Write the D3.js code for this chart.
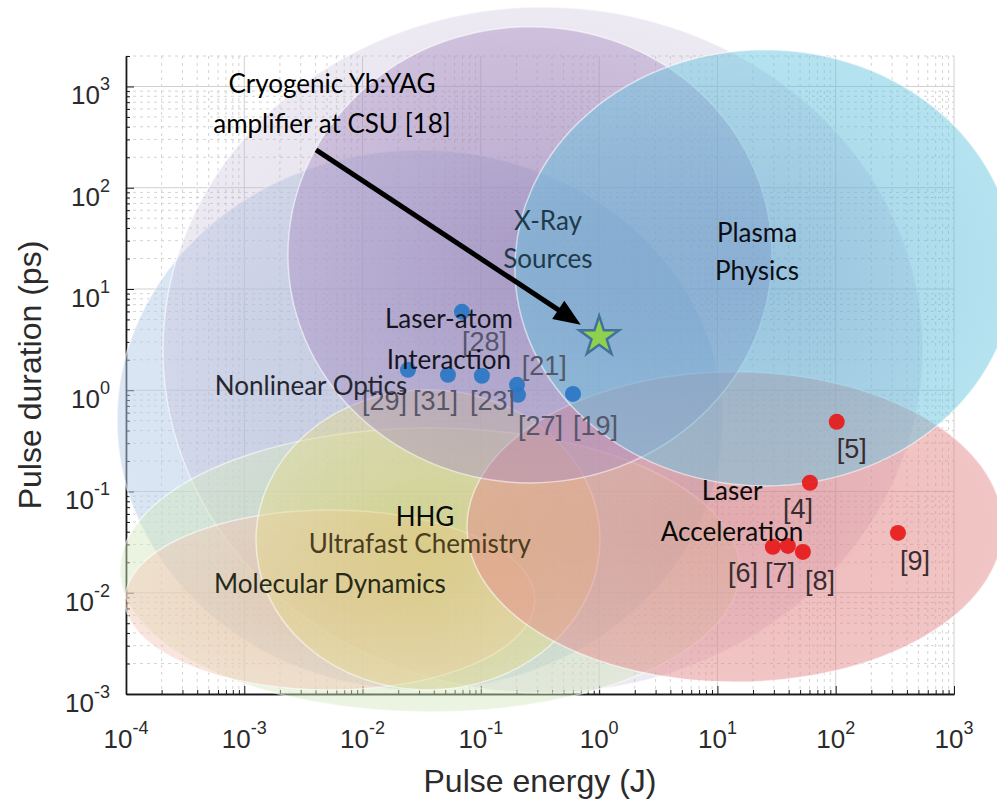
<!DOCTYPE html>
<html>
<head>
<meta charset="utf-8">
<script src="https://cdn.jsdelivr.net/npm/d3@7"></script>
<style>
  html, body { margin: 0; padding: 0; background: #ffffff; }
  svg { display: block; }
</style>
</head>
<body>
<svg id="chart" width="997" height="802"></svg>
<script>
// ---------- data ----------
// Axis decades (pulse energy in J, pulse duration in ps)
const energyTicks = [1e-4, 1e-3, 1e-2, 1e-1, 1e0, 1e1, 1e2, 1e3];
const energyExponents = ["-4", "-3", "-2", "-1", "0", "1", "2", "3"];
const durationTicks = [1e-3, 1e-2, 1e-1, 1e0, 1e1, 1e2, 1e3];
const durationExponents = ["-3", "-2", "-1", "0", "1", "2", "3"];

// Femtosecond / picosecond systems (blue)
const blueRefs = ["[28]", "[29]", "[31]", "[23]", "[21]", "[27]", "[19]"];
const blueEnergy = [0.0692, 0.0242, 0.0527, 0.102, 0.202, 0.206, 0.601];
const blueDuration = [5.95, 1.59, 1.42, 1.39, 1.13, 0.90, 0.92];
const blueLabelEnergy = [0.0692, 0.00989, 0.0267, 0.0809, 0.222, 0.206, 0.601];
const blueLabelDuration = [2.45, 0.640, 0.640, 0.640, 1.42, 0.362, 0.362];

// High-energy systems (red)
const redRefs = ["[5]", "[4]", "[9]", "[6]", "[7]", "[8]"];
const redEnergy = [102, 60.5, 336, 29.4, 39.4, 52.8];
const redDuration = [0.488, 0.122, 0.039, 0.0284, 0.029, 0.0253];
const redLabelEnergy = [102, 35.8, 349, 12.3, 25.2, 54.9];
const redLabelDuration = [0.215, 0.0548, 0.0168, 0.0128, 0.0128, 0.01067];

// Cryogenic Yb:YAG amplifier at CSU
const starEnergy = [1.0];
const starDuration = [3.37];
const calloutLines = ["Cryogenic Yb:YAG", "amplifier at CSU [18]"];
const calloutEnergy = [0.00551];
const calloutDuration = [868];
const arrowTailEnergy = [0.00404];
const arrowTailDuration = [237];

// Application regions: centre (log10) and half-extent (decades)
const regionKeys = ["nonlinearOptics", "laserAtom", "molecularDynamics", "ultrafastChemistry",
                    "hhg", "laserAcceleration", "xRaySources", "plasmaPhysics"];
const regionLogEnergy   = [-1.515, -0.475, -1.430, -2.276, -1.447, 1.148, -0.585, 1.401];
const regionLogDuration = [-0.294,  0.398, -1.775, -2.071, -1.478, -1.350, 1.338, 1.209];
const regionHalfEnergy   = [2.561, 3.212, 2.620, 1.733, 1.454, 2.265, 2.046, 2.113];
const regionHalfDuration = [2.667, 3.388, 1.403, 0.889, 1.482, 1.532, 2.253, 2.154];

// Region captions
const captionLines = [["X-Ray", "Sources"], ["Plasma", "Physics"], ["Laser-atom", "Interaction"],
                      ["Nonlinear Optics"], ["HHG"], ["Ultrafast Chemistry"],
                      ["Molecular Dynamics"], ["Laser", "Acceleration"]];
const captionEnergy   = [0.369, 21.6, 0.0537, 0.00367, 0.0337, 0.0305, 0.0053, 13.3];
const captionDuration = [38.5, 29.3, 4.14, 0.902, 0.0457, 0.0247, 0.00995, 0.0826];

// ---------- styles ----------
const regionPalette = {
  nonlinearOptics:    { stops: [[0, "#a6c2e2", 0.52], [1, "#b4cce6", 0.5]] },
  laserAtom:          { stops: [[0, "#a7a4bf", 0.36], [0.8, "#b6abcb", 0.3], [1, "#c4b6d6", 0.3]] },
  molecularDynamics:  { stops: [[0, "#c2dea0", 0.5], [1, "#d4e7bf", 0.45]] },
  ultrafastChemistry: { stops: [[0, "#eeb098", 0.5], [1, "#f2c6b5", 0.45]] },
  hhg:                { stops: [[0, "#dacb58", 0.5], [1, "#e5da8a", 0.45]] },
  laserAcceleration:  { stops: [[0, "#dd7070", 0.5], [1, "#e48c8c", 0.5]] },
  xRaySources:        { stops: [[0, "#8a68aa", 0.5], [1, "#a68ac0", 0.42]] },
  plasmaPhysics:      { stops: [[0, "#4aa2cc", 0.5], [1, "#66c4df", 0.48]] }
};
const captionColors = ["#1d3b4b", "#0d0d14", "#15151f", "#262630", "#0a0a0a", "#4a3d1e", "#262a18", "#0a0a0a"];
const lineGap = [38, 38, 41, 0, 0, 0, 0, 41];

const tickFont = "'Liberation Sans', Arial, Helvetica, sans-serif";
const captionFont = "Lato, 'Open Sans', sans-serif";

// ---------- scales ----------
const svg = d3.select("#chart");
const x = d3.scaleLog().domain([1e-4, 1e3]).range([126, 954]);
const y = d3.scaleLog().domain([1e-3, 2e3]).range([694, 56]);

const defs = svg.append("defs");

// ---------- grid ----------
const minorEnergy = [];
for (let d = -4; d < 3; d++) for (let m = 2; m <= 9; m++) minorEnergy.push(m * Math.pow(10, d));
const minorDuration = [];
for (let d = -3; d < 4; d++) for (let m = 2; m <= 9; m++) {
  const v = m * Math.pow(10, d);
  if (v <= y.domain()[1] * 1.0001) minorDuration.push(v);
}

const grid = svg.append("g");
grid.selectAll("line.mx").data(minorEnergy).join("line")
  .attr("x1", d => x(d)).attr("x2", d => x(d))
  .attr("y1", y.range()[1]).attr("y2", y.range()[0])
  .attr("stroke", "#c8c8c8").attr("stroke-width", 0.8).attr("stroke-dasharray", "3,4");
grid.selectAll("line.my").data(minorDuration).join("line")
  .attr("y1", d => y(d)).attr("y2", d => y(d))
  .attr("x1", x.range()[0]).attr("x2", x.range()[1])
  .attr("stroke", "#c8c8c8").attr("stroke-width", 0.8).attr("stroke-dasharray", "3,4");
grid.selectAll("line.Mx").data(energyTicks).join("line")
  .attr("x1", d => x(d)).attr("x2", d => x(d))
  .attr("y1", y.range()[1]).attr("y2", y.range()[0])
  .attr("stroke", "#d0d0d0").attr("stroke-width", 1);
grid.selectAll("line.My").data(durationTicks).join("line")
  .attr("y1", d => y(d)).attr("y2", d => y(d))
  .attr("x1", x.range()[0]).attr("x2", x.range()[1])
  .attr("stroke", "#d0d0d0").attr("stroke-width", 1);

// ---------- axes ----------
const axisColor = "#1a1a1a";
const bottomMinor = svg.append("g").attr("transform", `translate(0,${y.range()[0]})`)
  .call(d3.axisBottom(x).tickValues(minorEnergy).tickSizeInner(-4).tickSizeOuter(0).tickFormat(""));
const bottomMajor = svg.append("g").attr("transform", `translate(0,${y.range()[0]})`)
  .call(d3.axisBottom(x).tickValues(energyTicks).tickSizeInner(-8).tickSizeOuter(0).tickFormat(""));
const leftMinor = svg.append("g").attr("transform", `translate(${x.range()[0]},0)`)
  .call(d3.axisLeft(y).tickValues(minorDuration).tickSizeInner(-4).tickSizeOuter(0).tickFormat(""));
const leftMajor = svg.append("g").attr("transform", `translate(${x.range()[0]},0)`)
  .call(d3.axisLeft(y).tickValues(durationTicks).tickSizeInner(-8).tickSizeOuter(0).tickFormat(""));
[bottomMinor, bottomMajor, leftMinor, leftMajor].forEach(g => {
  g.selectAll("path.domain").attr("stroke", axisColor).attr("stroke-width", 1.4);
  g.selectAll(".tick line").attr("stroke", axisColor).attr("stroke-width", 1);
});

// tick labels with superscript exponents
const xLab = svg.append("g").attr("font-family", tickFont).attr("fill", "#2b2b2b");
energyTicks.forEach((v, i) => {
  const t = xLab.append("text").attr("x", x(v)).attr("y", 748).attr("text-anchor", "middle");
  t.append("tspan").attr("font-size", 26).text("10");
  t.append("tspan").attr("font-size", 18).attr("dy", -14).text(energyExponents[i]);
});
const yLab = svg.append("g").attr("font-family", tickFont).attr("fill", "#2b2b2b");
durationTicks.forEach((v, i) => {
  const t = yLab.append("text").attr("x", 110).attr("y", y(v) + 18).attr("text-anchor", "end");
  t.append("tspan").attr("font-size", 26).text("10");
  t.append("tspan").attr("font-size", 18).attr("dy", -14).text(durationExponents[i]);
});

// axis titles
svg.append("text").attr("x", (x.range()[0] + x.range()[1]) / 2).attr("y", 792)
  .attr("text-anchor", "middle").attr("font-family", tickFont).attr("font-size", 32)
  .attr("fill", "#2b2b2b").text("Pulse energy (J)");
svg.append("text").attr("transform", `translate(41,${(y.range()[0] + y.range()[1]) / 2}) rotate(-90)`)
  .attr("text-anchor", "middle").attr("font-family", tickFont).attr("font-size", 32)
  .attr("fill", "#2b2b2b").text("Pulse duration (ps)");

// ---------- application regions ----------
regionKeys.forEach(k => {
  const p = regionPalette[k];
  const g = defs.append("radialGradient").attr("id", "grad-" + k)
    .attr("cx", 0.5).attr("cy", 0.5).attr("r", 0.5);
  p.stops.forEach(s => g.append("stop").attr("offset", s[0]).attr("stop-color", s[1]).attr("stop-opacity", s[2]));
});

const regions = regionKeys.map((k, i) => {
  const cx = x(Math.pow(10, regionLogEnergy[i]));
  const cy = y(Math.pow(10, regionLogDuration[i]));
  const rx = x(Math.pow(10, regionLogEnergy[i] + regionHalfEnergy[i])) - cx;
  const ry = cy - y(Math.pow(10, regionLogDuration[i] + regionHalfDuration[i]));
  return { key: k, cx, cy, rx, ry };
});
svg.append("g").selectAll("ellipse").data(regions).join("ellipse")
  .attr("cx", d => d.cx).attr("cy", d => d.cy).attr("rx", d => d.rx).attr("ry", d => d.ry)
  .attr("fill", d => `url(#grad-${d.key})`)
  .attr("stroke", "#ffffff").attr("stroke-opacity", 0.55).attr("stroke-width", 1.5);

// ---------- measured systems ----------
const pts = svg.append("g");
pts.selectAll("circle.blue").data(blueEnergy).join("circle")
  .attr("cx", (d) => x(d)).attr("cy", (d, i) => y(blueDuration[i])).attr("r", 8)
  .attr("fill", "#2a76c4").attr("fill-opacity", 0.92);
pts.selectAll("circle.red").data(redEnergy).join("circle")
  .attr("cx", (d) => x(d)).attr("cy", (d, i) => y(redDuration[i])).attr("r", 8)
  .attr("fill", "#e81616").attr("fill-opacity", 0.9);

const refs = svg.append("g").attr("font-family", tickFont).attr("font-size", 27);
blueRefs.forEach((r, i) => {
  refs.append("text").attr("x", x(blueLabelEnergy[i])).attr("y", y(blueLabelDuration[i]))
    .attr("fill", "#56566a").text(r);
});
redRefs.forEach((r, i) => {
  refs.append("text").attr("x", x(redLabelEnergy[i])).attr("y", y(redLabelDuration[i]))
    .attr("fill", "#3a2c30").text(r);
});

// ---------- captions ----------
const caps = svg.append("g").attr("font-family", captionFont).attr("font-size", 26).attr("text-anchor", "middle");
captionLines.forEach((lines, i) => {
  const cx = x(captionEnergy[i]), cy = y(captionDuration[i]);
  lines.forEach((ln, j) => {
    caps.append("text").attr("x", cx).attr("y", cy + j * lineGap[i]).attr("fill", captionColors[i]).text(ln);
  });
});

// ---------- star, arrow and callout ----------
const sx = x(starEnergy[0]), sy = y(starDuration[0]);
const tx = x(arrowTailEnergy[0]), ty = y(arrowTailDuration[0]);
const ang = Math.atan2(sy - ty, sx - tx);
const tipX = sx - 22 * Math.cos(ang), tipY = sy - 22 * Math.sin(ang);
const headLen = 27, headHalf = 11;
const baseX = tipX - headLen * Math.cos(ang), baseY = tipY - headLen * Math.sin(ang);
svg.append("line").attr("x1", tx).attr("y1", ty).attr("x2", baseX + 2 * Math.cos(ang)).attr("y2", baseY + 2 * Math.sin(ang))
  .attr("stroke", "#000").attr("stroke-width", 5);
svg.append("path")
  .attr("d", `M${tipX},${tipY} L${baseX - headHalf * Math.sin(ang)},${baseY + headHalf * Math.cos(ang)} L${baseX + headHalf * Math.sin(ang)},${baseY - headHalf * Math.cos(ang)} Z`)
  .attr("fill", "#000");

svg.append("path").attr("transform", `translate(${sx},${sy})`)
  .attr("d", d3.symbol(d3.symbolStar).size(495)())
  .attr("fill", "#8fd14f").attr("stroke", "#41719c").attr("stroke-width", 2.5).attr("stroke-linejoin", "miter");

const call = svg.append("g").attr("font-family", captionFont).attr("font-size", 26).attr("text-anchor", "middle").attr("fill", "#000");
calloutLines.forEach((ln, j) => {
  call.append("text").attr("x", x(calloutEnergy[0])).attr("y", y(calloutDuration[0]) + j * 40).text(ln);
});
</script>
</body>
</html>
